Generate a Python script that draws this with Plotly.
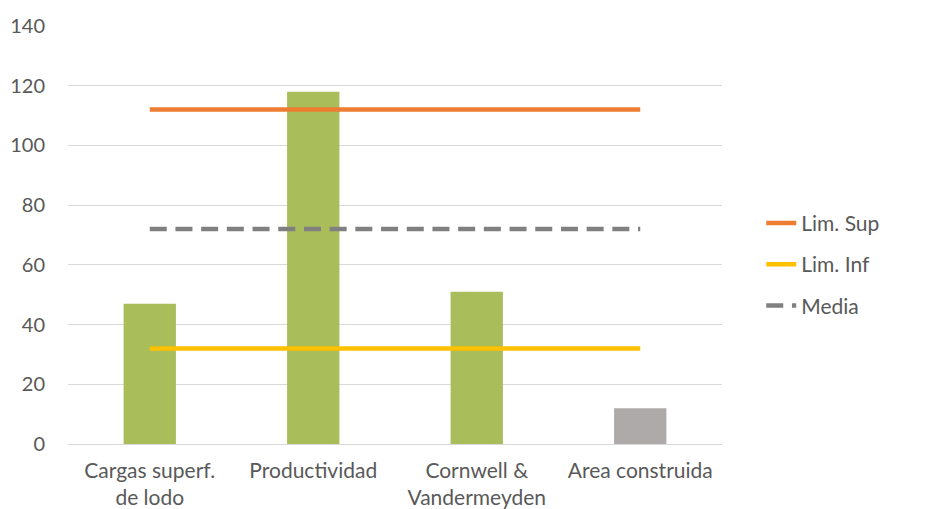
import plotly.graph_objects as go

categories = ["Cargas superf.<br>de lodo", "Productividad", "Cornwell &<br>Vandermeyden", "Area construida"]
bar_values = [47, 118, 51, 12]
bar_colors = ["#A9BD5B", "#A9BD5B", "#A9BD5B", "#AEAAAA"]
lim_sup = [112, 112, 112, 112]
lim_inf = [32, 32, 32, 32]
media = [72, 72, 72, 72]

FONT = "Lato"
TXT = "#595959"

fig = go.Figure()
fig.add_trace(go.Bar(x=categories, y=bar_values, marker=dict(color=bar_colors, line=dict(width=0)),
                     width=0.32, showlegend=False, hoverinfo="y"))
fig.add_trace(go.Scatter(x=categories, y=lim_sup, mode="lines", name="Lim. Sup",
                         line=dict(color="#ED7D31", width=4.5), legendgroup="a"))
fig.add_trace(go.Scatter(x=categories, y=lim_inf, mode="lines", name="Lim. Inf",
                         line=dict(color="#FFC000", width=4.5), legendgroup="b"))
fig.add_trace(go.Scatter(x=categories, y=media, mode="lines", name="Media",
                         line=dict(color="#808080", width=4.5, dash="17px,8.7px"), legendgroup="c"))

fig.update_layout(
    width=925, height=509,
    margin=dict(l=68, r=203, t=26, b=65),
    paper_bgcolor="white", plot_bgcolor="white",
    font=dict(family=FONT, size=20, color=TXT),
    bargap=0.68,
    legend=dict(x=1.06, y=0.43, xanchor="left", yanchor="middle",
                font=dict(family=FONT, size=21, color=TXT),
                tracegroupgap=11, traceorder="grouped"),
    xaxis=dict(showgrid=False, showline=False, ticks="", ticklabelstandoff=12,
               automargin=False, tickfont=dict(size=21, color=TXT)),
    yaxis=dict(range=[0, 140], dtick=20, showgrid=True, gridcolor="#D9D9D9", gridwidth=1.3,
               zeroline=True, zerolinecolor="#D9D9D9", zerolinewidth=1.3, automargin=False,
               ticks="", ticklabelstandoff=22, tickfont=dict(size=20, color=TXT)),
)

fig.write_html("out.html")
